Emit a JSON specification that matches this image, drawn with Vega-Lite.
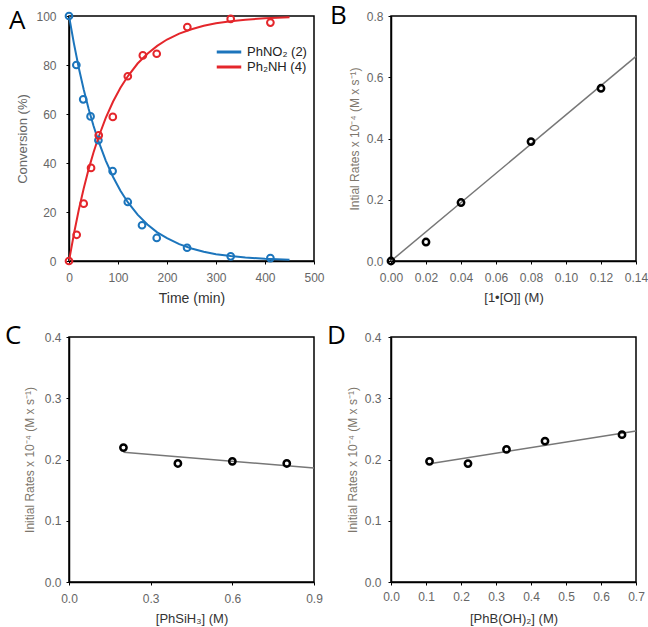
{
  "$schema": "https://vega.github.io/schema/vega-lite/v6.json",
  "background": "white",
  "padding": {"left": 4, "top": 2, "right": 0, "bottom": 0},
  "columns": 2,
  "spacing": {"row": 76, "column": 77},
  "bounds": "flush",
  "align": "all",
  "datasets": {
    "a_pts": [
      {"t": 0, "v": 100, "s": "PhNO₂ (2)"},
      {"t": 15, "v": 80, "s": "PhNO₂ (2)"},
      {"t": 29, "v": 66, "s": "PhNO₂ (2)"},
      {"t": 44, "v": 59, "s": "PhNO₂ (2)"},
      {"t": 60, "v": 49.3, "s": "PhNO₂ (2)"},
      {"t": 89, "v": 36.7, "s": "PhNO₂ (2)"},
      {"t": 120, "v": 24.1, "s": "PhNO₂ (2)"},
      {"t": 149, "v": 14.6, "s": "PhNO₂ (2)"},
      {"t": 179, "v": 9.4, "s": "PhNO₂ (2)"},
      {"t": 241, "v": 5.4, "s": "PhNO₂ (2)"},
      {"t": 330, "v": 1.9, "s": "PhNO₂ (2)"},
      {"t": 411, "v": 1.2, "s": "PhNO₂ (2)"},
      {"t": 0, "v": 0, "s": "Ph₂NH (4)"},
      {"t": 15.7, "v": 10.7, "s": "Ph₂NH (4)"},
      {"t": 30, "v": 23.4, "s": "Ph₂NH (4)"},
      {"t": 45, "v": 38, "s": "Ph₂NH (4)"},
      {"t": 60.7, "v": 51.3, "s": "Ph₂NH (4)"},
      {"t": 89.4, "v": 58.8, "s": "Ph₂NH (4)"},
      {"t": 120, "v": 75.4, "s": "Ph₂NH (4)"},
      {"t": 150.7, "v": 83.9, "s": "Ph₂NH (4)"},
      {"t": 179, "v": 84.6, "s": "Ph₂NH (4)"},
      {"t": 241.5, "v": 95.5, "s": "Ph₂NH (4)"},
      {"t": 330, "v": 98.8, "s": "Ph₂NH (4)"},
      {"t": 411, "v": 97.3, "s": "Ph₂NH (4)"}
    ],
    "a_fit": [
      {"t": 0, "v": 100, "s": "PhNO₂ (2)"},
      {"t": 10, "v": 88.8, "s": "PhNO₂ (2)"},
      {"t": 20, "v": 78.8, "s": "PhNO₂ (2)"},
      {"t": 30, "v": 70.0, "s": "PhNO₂ (2)"},
      {"t": 40, "v": 62.1, "s": "PhNO₂ (2)"},
      {"t": 50, "v": 55.2, "s": "PhNO₂ (2)"},
      {"t": 60, "v": 49.0, "s": "PhNO₂ (2)"},
      {"t": 75, "v": 41.0, "s": "PhNO₂ (2)"},
      {"t": 90, "v": 34.3, "s": "PhNO₂ (2)"},
      {"t": 105, "v": 28.7, "s": "PhNO₂ (2)"},
      {"t": 120, "v": 24.0, "s": "PhNO₂ (2)"},
      {"t": 140, "v": 18.9, "s": "PhNO₂ (2)"},
      {"t": 160, "v": 14.9, "s": "PhNO₂ (2)"},
      {"t": 180, "v": 11.7, "s": "PhNO₂ (2)"},
      {"t": 200, "v": 9.3, "s": "PhNO₂ (2)"},
      {"t": 225, "v": 6.9, "s": "PhNO₂ (2)"},
      {"t": 250, "v": 5.1, "s": "PhNO₂ (2)"},
      {"t": 275, "v": 3.8, "s": "PhNO₂ (2)"},
      {"t": 300, "v": 2.8, "s": "PhNO₂ (2)"},
      {"t": 330, "v": 2.0, "s": "PhNO₂ (2)"},
      {"t": 360, "v": 1.4, "s": "PhNO₂ (2)"},
      {"t": 400, "v": 0.9, "s": "PhNO₂ (2)"},
      {"t": 450, "v": 0.5, "s": "PhNO₂ (2)"},
      {"t": 0, "v": 0, "s": "Ph₂NH (4)"},
      {"t": 10, "v": 11.0, "s": "Ph₂NH (4)"},
      {"t": 20, "v": 20.9, "s": "Ph₂NH (4)"},
      {"t": 30, "v": 29.6, "s": "Ph₂NH (4)"},
      {"t": 40, "v": 37.4, "s": "Ph₂NH (4)"},
      {"t": 50, "v": 44.3, "s": "Ph₂NH (4)"},
      {"t": 60, "v": 50.4, "s": "Ph₂NH (4)"},
      {"t": 75, "v": 58.4, "s": "Ph₂NH (4)"},
      {"t": 90, "v": 65.1, "s": "Ph₂NH (4)"},
      {"t": 105, "v": 70.7, "s": "Ph₂NH (4)"},
      {"t": 120, "v": 75.4, "s": "Ph₂NH (4)"},
      {"t": 140, "v": 80.6, "s": "Ph₂NH (4)"},
      {"t": 160, "v": 84.6, "s": "Ph₂NH (4)"},
      {"t": 180, "v": 87.8, "s": "Ph₂NH (4)"},
      {"t": 200, "v": 90.4, "s": "Ph₂NH (4)"},
      {"t": 225, "v": 92.8, "s": "Ph₂NH (4)"},
      {"t": 250, "v": 94.6, "s": "Ph₂NH (4)"},
      {"t": 275, "v": 96.0, "s": "Ph₂NH (4)"},
      {"t": 300, "v": 97.0, "s": "Ph₂NH (4)"},
      {"t": 330, "v": 97.9, "s": "Ph₂NH (4)"},
      {"t": 360, "v": 98.5, "s": "Ph₂NH (4)"},
      {"t": 400, "v": 99.1, "s": "Ph₂NH (4)"},
      {"t": 450, "v": 99.5, "s": "Ph₂NH (4)"}
    ],
    "b_pts": [
      {"x": 0, "y": 0},
      {"x": 0.02, "y": 0.062},
      {"x": 0.04, "y": 0.191},
      {"x": 0.08, "y": 0.39},
      {"x": 0.12, "y": 0.564}
    ],
    "b_fit": [
      {"x": 0, "y": 0},
      {"x": 0.14, "y": 0.668}
    ],
    "c_pts": [
      {"x": 0.2, "y": 0.2195},
      {"x": 0.4, "y": 0.1935},
      {"x": 0.6, "y": 0.197},
      {"x": 0.8, "y": 0.1935}
    ],
    "c_fit": [
      {"x": 0.2, "y": 0.212},
      {"x": 0.9, "y": 0.186}
    ],
    "d_pts": [
      {"x": 0.11, "y": 0.197},
      {"x": 0.22, "y": 0.1934},
      {"x": 0.33, "y": 0.2164},
      {"x": 0.44, "y": 0.2301},
      {"x": 0.66, "y": 0.2405}
    ],
    "d_fit": [
      {"x": 0.11, "y": 0.193},
      {"x": 0.7, "y": 0.2466}
    ]
  },
  "concat": [
    {
      "width": 245,
      "height": 245,
      "title": {"text": "A", "dx": -60, "dy": 29},
      "encoding": {
        "x": {"field": "t", "type": "quantitative", "scale": {"domain": [0, 500], "nice": false},
              "axis": {"values": [0, 100, 200, 300, 400, 500], "labelOverlap": false, "title": "Time (min)", "titleColor": "#333", "titleFontSize": 14, "labelPadding": 8, "titlePadding": 8}},
        "y": {"field": "v", "type": "quantitative", "scale": {"domain": [0, 100], "nice": false},
              "axis": {"values": [0, 20, 40, 60, 80, 100], "labelOverlap": false, "title": "Conversion (%)", "labelPadding": 10, "titlePadding": 6}}
      },
      "layer": [
        {
          "data": {"name": "a_fit"},
          "mark": {"type": "line", "strokeWidth": 2, "clip": true},
          "encoding": {
            "color": {"field": "s", "type": "nominal",
                      "scale": {"domain": ["PhNO₂ (2)", "Ph₂NH (4)"], "range": ["#1c75bc", "#e4262b"]},
                      "legend": {"title": null, "orient": "none", "legendX": 152, "legendY": 28, "symbolType": "M-2,0H2", "symbolSize": 150, "symbolStrokeWidth": 3, "labelOffset": 10, "labelFontSize": 13, "labelColor": "#222", "labelFont": "Liberation Sans", "rowPadding": 0}},
            "detail": {"field": "s"}
          }
        },
        {
          "data": {"name": "a_pts"},
          "mark": {"type": "point", "shape": "circle", "filled": false, "strokeWidth": 2, "size": 45, "opacity": 1},
          "encoding": {
            "stroke": {"field": "s", "type": "nominal",
                       "scale": {"domain": ["PhNO₂ (2)", "Ph₂NH (4)"], "range": ["#1c75bc", "#e4262b"]},
                       "legend": null}
          }
        }
      ]
    },
    {
      "width": 245,
      "height": 245,
      "title": {"text": "B", "dx": -61, "dy": 23},
      "encoding": {
        "x": {"field": "x", "type": "quantitative", "scale": {"domain": [0, 0.14], "nice": false},
              "axis": {"values": [0, 0.02, 0.04, 0.06, 0.08, 0.1, 0.12, 0.14], "labelOverlap": false, "format": ".2f", "title": "[1•[O]] (M)", "titleColor": "#333", "titleFontSize": 13, "labelPadding": 8, "titlePadding": 8}},
        "y": {"field": "y", "type": "quantitative", "scale": {"domain": [0, 0.8], "nice": false},
              "axis": {"values": [0, 0.2, 0.4, 0.6, 0.8], "labelOverlap": false, "format": ".1f", "title": "Intial Rates x 10⁻⁴ (M x s⁻¹)", "titleColor": "#7d766c", "titleFontSize": 12, "labelPadding": 5, "titlePadding": 5}}
      },
      "layer": [
        {
          "data": {"name": "b_fit"},
          "mark": {"type": "line", "strokeWidth": 1.5, "color": "#777"},
          "encoding": {}
        },
        {
          "data": {"name": "b_pts"},
          "mark": {"type": "point", "shape": "circle", "filled": false, "strokeWidth": 2.5, "size": 40, "color": "black", "opacity": 1}
        }
      ]
    },
    {
      "width": 245,
      "height": 245,
      "title": {"text": "C", "dx": -64, "dy": 22},
      "encoding": {
        "x": {"field": "x", "type": "quantitative", "scale": {"domain": [0, 0.9], "nice": false},
              "axis": {"values": [0, 0.3, 0.6, 0.9], "labelOverlap": false, "format": ".1f", "title": "[PhSiH₃] (M)", "titleColor": "#333", "titleFontSize": 13, "labelPadding": 8, "titlePadding": 8}},
        "y": {"field": "y", "type": "quantitative", "scale": {"domain": [0, 0.4], "nice": false},
              "axis": {"values": [0, 0.1, 0.2, 0.3, 0.4], "labelOverlap": false, "format": ".1f", "title": "Initial Rates x 10⁻⁴ (M x s⁻¹)", "titleColor": "#7d766c", "titleFontSize": 12, "labelPadding": 5, "titlePadding": 8}}
      },
      "layer": [
        {
          "data": {"name": "c_fit"},
          "mark": {"type": "line", "strokeWidth": 1.5, "color": "#777"},
          "encoding": {}
        },
        {
          "data": {"name": "c_pts"},
          "mark": {"type": "point", "shape": "circle", "filled": false, "strokeWidth": 2.5, "size": 40, "color": "black", "opacity": 1}
        }
      ]
    },
    {
      "width": 245,
      "height": 245,
      "title": {"text": "D", "dx": -64, "dy": 22},
      "encoding": {
        "x": {"field": "x", "type": "quantitative", "scale": {"domain": [0, 0.7], "nice": false},
              "axis": {"values": [0, 0.1, 0.2, 0.3, 0.4, 0.5, 0.6, 0.7], "labelOverlap": false, "format": ".1f", "title": "[PhB(OH)₂] (M)", "titleColor": "#333", "titleFontSize": 13, "labelPadding": 6, "titlePadding": 10}},
        "y": {"field": "y", "type": "quantitative", "scale": {"domain": [0, 0.4], "nice": false},
              "axis": {"values": [0, 0.1, 0.2, 0.3, 0.4], "labelOverlap": false, "format": ".1f", "title": "Initial Rates x 10⁻⁴ (M x s⁻¹)", "titleColor": "#7d766c", "titleFontSize": 12, "labelPadding": 7, "titlePadding": 5}}
      },
      "layer": [
        {
          "data": {"name": "d_fit"},
          "mark": {"type": "line", "strokeWidth": 1.5, "color": "#777"},
          "encoding": {}
        },
        {
          "data": {"name": "d_pts"},
          "mark": {"type": "point", "shape": "circle", "filled": false, "strokeWidth": 2.5, "size": 40, "color": "black", "opacity": 1}
        }
      ]
    }
  ],
  "config": {
    "font": "Liberation Sans",
    "view": {"stroke": "black", "strokeWidth": 1.5},
    "axis": {"grid": false, "domainColor": "black", "domainWidth": 1.5, "tickColor": "black", "tickSize": 3,
             "labelOverlap": false, "labelFlush": false, "labelFont": "Liberation Sans", "labelFontSize": 12, "labelColor": "#666",
             "titleFont": "Liberation Sans", "titleFontWeight": "normal", "titleFontSize": 13, "titleColor": "#666"},
    "title": {"font": "Open Sans", "fontSize": 26, "fontWeight": "normal", "anchor": "start", "frame": "group", "color": "black", "baseline": "top", "offset": 0}
  }
}
